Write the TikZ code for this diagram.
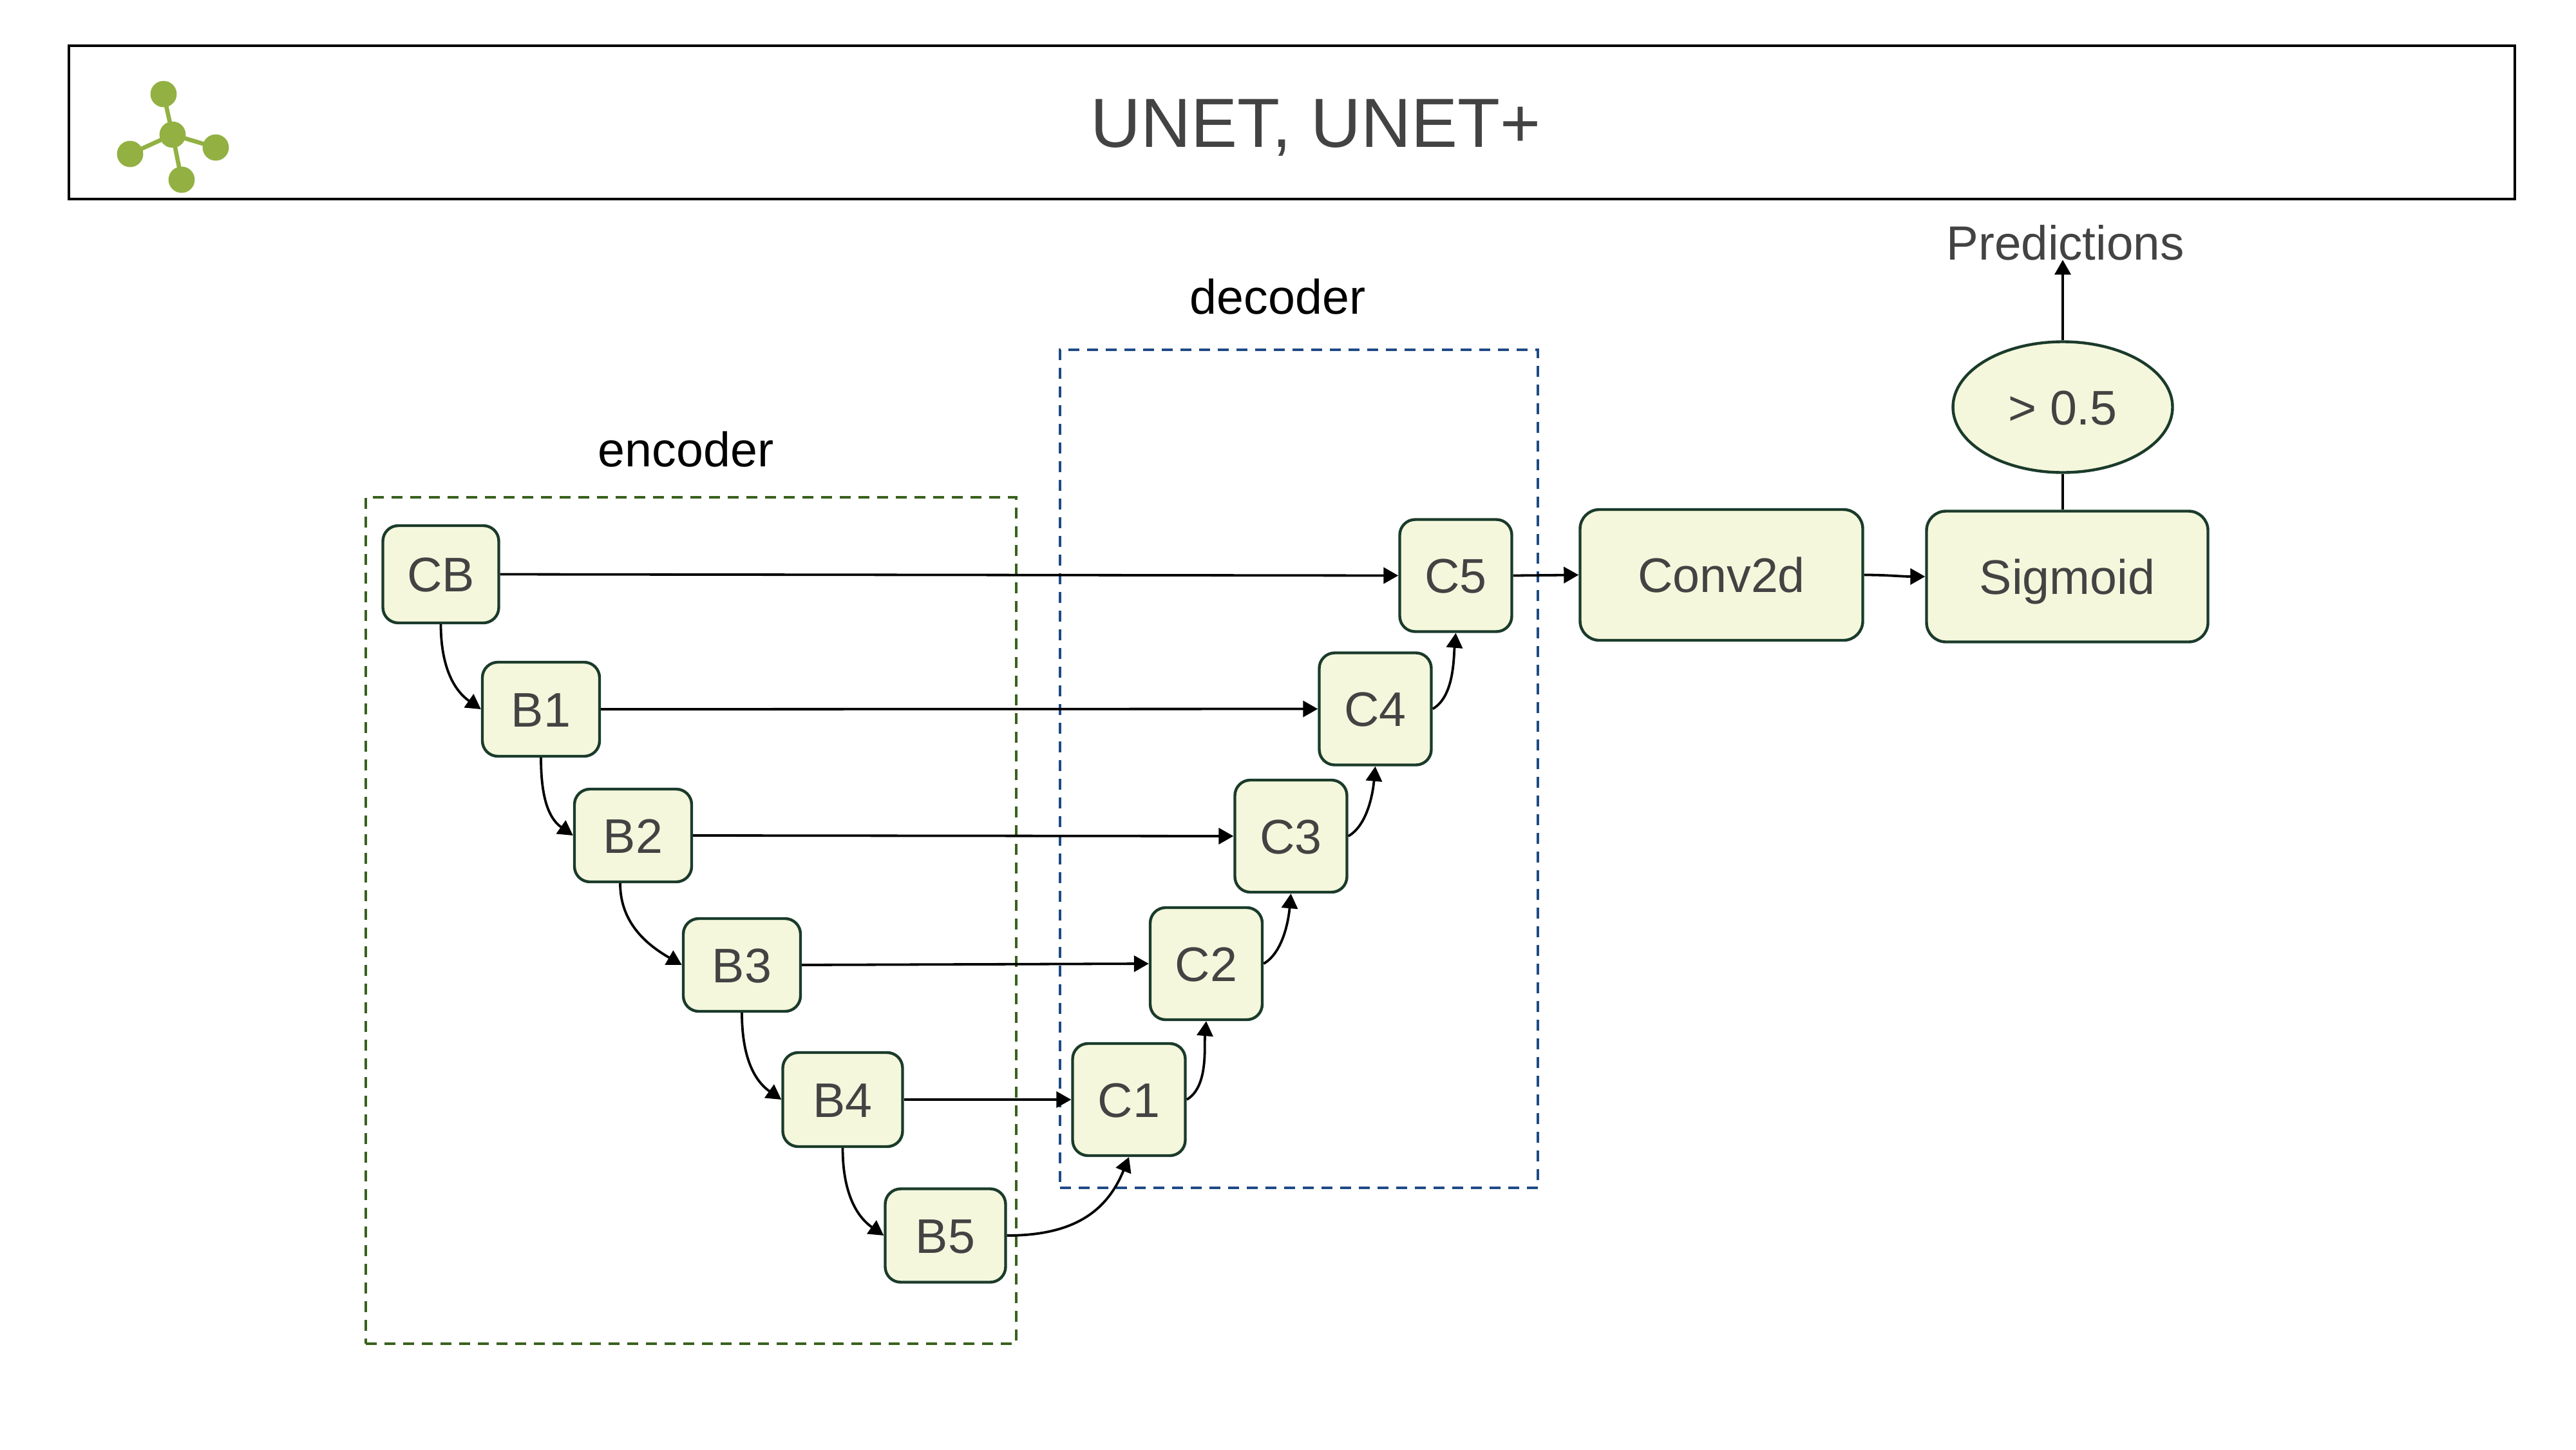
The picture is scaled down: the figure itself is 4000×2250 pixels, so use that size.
\documentclass[tikz,border=0pt]{standalone}
\usepackage{fontspec}
\setmainfont{Liberation Sans}
\usetikzlibrary{arrows.meta,shapes.geometric}
\definecolor{nodefill}{HTML}{F4F7DC}
\definecolor{nodeline}{HTML}{1B3B2B}
\definecolor{inktext}{HTML}{434343}
\definecolor{encgreen}{HTML}{38611D}
\definecolor{decblue}{HTML}{1F4A85}
\definecolor{icongreen}{HTML}{92B142}
\tikzset{
  lbl/.style={font=\fontsize{37.7}{46}\selectfont,text height=27pt,text depth=0pt,inner sep=0pt},
  blockbox/.style args={#1x#2}{lbl,draw=nodeline,fill=nodefill,line width=2.2pt,rounded corners=12pt,
    minimum width=#1*0.5pt,minimum height=#2*0.5pt,text=inktext},
  widebox/.style args={#1x#2}{blockbox=#1x#2,rounded corners=15pt},
  groupbox/.style args={#1x#2}{draw,line width=2.2pt,dash pattern=on 8.5pt off 6pt,
    minimum width=#1*0.5pt,minimum height=#2*0.5pt,inner sep=0pt},
  conn/.style={draw=black,line width=1.9pt,-{Triangle[length=11.5pt,width=12.5pt]}},
  plainconn/.style={draw=black,line width=1.9pt},
  iconpart/.style={icongreen,line width=3.3pt},
}
\begin{document}
\begin{tikzpicture}[x=0.5pt,y=-0.5pt]
\useasboundingbox (0,0) rectangle (4000,2250);
\fill[white] (0,0) rectangle (4000,2250);
% title bar
\node[draw=black,line width=2.2pt,minimum width=1899pt,minimum height=119pt,inner sep=0pt] (title) at (2006,190) {};
\node[font=\fontsize{54}{64}\selectfont,text=inktext,text height=38.6pt,text depth=0pt,inner sep=0pt] (titletext) at (2043,190) {UNET, UNET+};
% icon
\draw[iconpart] (254,146) -- (268,209) -- (202,239) (268,209) -- (335,229) (268,209) -- (282,279);
\foreach \p in {(254,146),(268,209),(202,239),(335,229),(282,279)} \fill[icongreen] \p circle (10.2pt);
% groups
\node[groupbox=1010x1314,draw=encgreen] (encbox) at (1073,1429) {};
\node[groupbox=742x1301,draw=decblue] (decbox) at (2017,1193.5) {};
\node[lbl,text=black] (enclabel) at (1065,697) {encoder};
\node[lbl,text=black] (declabel) at (1984,460.5) {decoder};
% blocks
\node[blockbox=180x151] (CB) at (684.5,891.5) {CB};
\node[blockbox=182x146] (B1) at (840,1101) {B1};
\node[blockbox=182x144] (B2) at (983,1297) {B2};
\node[blockbox=182x144] (B3) at (1152,1498) {B3};
\node[blockbox=186x146] (B4) at (1308.5,1707) {B4};
\node[blockbox=187x145] (B5) at (1468,1918) {B5};
\node[blockbox=175x174] (C1) at (1753,1707) {C1};
\node[blockbox=174x174] (C2) at (1873,1496) {C2};
\node[blockbox=174x174] (C3) at (2004.5,1298) {C3};
\node[blockbox=174x174] (C4) at (2135.5,1100.5) {C4};
\node[blockbox=174x174] (C5) at (2260.5,893.5) {C5};
\node[widebox=439x203] (conv) at (2673,892.5) {Conv2d};
\node[widebox=437x203] (sig) at (3210,895) {Sigmoid};
\node[lbl,draw=nodeline,fill=nodefill,line width=2.2pt,ellipse,minimum width=170.5pt,minimum height=101.5pt,text=inktext] (thr) at (3203,632) {> 0.5};
\node[lbl,text=inktext,font=\fontsize{37.3}{46}\selectfont] (pred) at (3207,376) {Predictions};
% connectors
\draw[conn] (CB.south) to[out=-90,in=145] (B1.west);
\draw[conn] (B1.south) to[out=-90,in=145] (B2.west);
\draw[conn] ([xshift=-10pt]B2.south) to[out=-90,in=150] (B3.west);
\draw[conn] (B3.south) to[out=-90,in=145] (B4.west);
\draw[conn] (B4.south) to[out=-90,in=145] (B5.west);
\draw[conn] (B5.east) to[out=0,in=-112,looseness=1.1] (C1.south);
\draw[conn] (C1.east) to[out=30,in=-95,looseness=.8] (C2.south);
\draw[conn] (C2.east) to[out=30,in=-95,looseness=.8] (C3.south);
\draw[conn] (C3.east) to[out=30,in=-95,looseness=.8] (C4.south);
\draw[conn] (C4.east) to[out=30,in=-95,looseness=.8] (C5.south);
\draw[conn] (CB.east) -- (C5.west);
\draw[conn] (B1.east) -- (C4.west);
\draw[conn] (B2.east) -- (C3.west);
\draw[conn] (B3.east) -- (C2.west);
\draw[conn] (B4.east) -- (C1.west);
\draw[conn] (C5.east) -- (conv.west);
\draw[conn] (conv.east) to[out=0,in=180] (sig.west);
\draw[plainconn] (thr.south) -- (thr.south |- sig.north);
\draw[conn] (thr.north) -- (thr.north |- pred.south);
\end{tikzpicture}
\end{document}
